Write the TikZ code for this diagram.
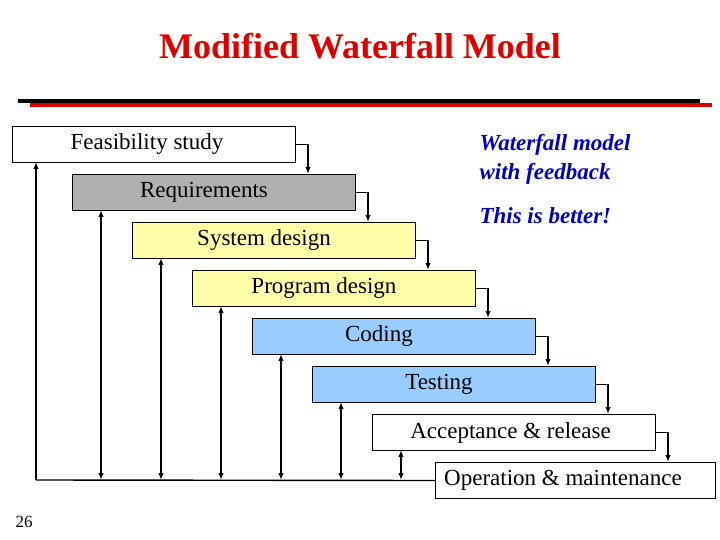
\documentclass[tikz,border=0pt]{standalone}
\usepackage{fontspec}
\setmainfont{Liberation Serif}
\usetikzlibrary{arrows.meta}
\definecolor{reqgray}{RGB}{176,176,176}
\definecolor{sysyellow}{RGB}{255,255,170}
\definecolor{codeblue}{RGB}{153,204,255}
\definecolor{titlered}{RGB}{220,0,0}
\definecolor{notecol}{RGB}{0,0,190}
\begin{document}
\begin{tikzpicture}[x=1pt,y=-1pt,
  phase/.style={draw=black,line width=1pt,minimum width=283pt,minimum height=36pt,anchor=north west,inner sep=0pt,font=\fontsize{23}{26}\selectfont},
  flow/.style={line width=1.4pt,-{Latex[length=7pt,width=5.5pt]}},
  fb/.style={line width=1.4pt,{Latex[length=7pt,width=5.5pt]}-{Latex[length=7pt,width=5.5pt]}},
  note/.style={text=notecol,font=\fontsize{23}{26}\selectfont\bfseries\itshape,anchor=west}]
\useasboundingbox (0,0) rectangle (720,540);
\node[font=\fontsize{36}{40}\selectfont\bfseries,text=titlered] (title) at (360,46) {Modified Waterfall Model};
\draw[line width=4pt] (18,101) -- (700,101);
\draw[line width=4pt,titlered] (30,105) -- (712,105);
\node[phase,fill=white] (f) at (12,126) {\hspace*{-14pt}Feasibility study};
\node[phase,fill=reqgray] (r) at (72,174) {\hspace*{-20pt}Requirements};
\node[phase,fill=sysyellow] (s) at (132,222) {\hspace*{-20pt}System design};
\node[phase,fill=sysyellow] (p) at (192,270) {\hspace*{-20pt}Program design};
\node[phase,fill=codeblue] (c) at (252,318) {\hspace*{-30pt}Coding};
\node[phase,fill=codeblue] (t) at (312,366) {\hspace*{-30pt}Testing};
\node[phase,fill=white] (a) at (372,414) {\hspace*{-7pt}Acceptance \& release};
\node[phase,fill=white,minimum width=280pt] (o) at (435,462) {\hspace*{-25pt}Operation \& maintenance};
\coordinate (fr) at ([xshift=12pt]f.east);
\draw[flow] (f.east) -- (fr) -- (fr |- r.north);
\coordinate (rr) at ([xshift=12pt]r.east);
\draw[flow] (r.east) -- (rr) -- (rr |- s.north);
\coordinate (sr) at ([xshift=12pt]s.east);
\draw[flow] (s.east) -- (sr) -- (sr |- p.north);
\coordinate (pr) at ([xshift=12pt]p.east);
\draw[flow] (p.east) -- (pr) -- (pr |- c.north);
\coordinate (cr) at ([xshift=12pt]c.east);
\draw[flow] (c.east) -- (cr) -- (cr |- t.north);
\coordinate (tr) at ([xshift=12pt]t.east);
\draw[flow] (t.east) -- (tr) -- (tr |- a.north);
\coordinate (ar) at ([xshift=12pt]a.east);
\draw[flow] (a.east) -- (ar) -- (ar |- o.north);
% feedback bus
\coordinate (b0) at (36,480);
\draw[line width=1.4pt] (o.west) -- (b0);
\draw[line width=1.4pt,{Latex[length=7pt,width=5.5pt]}-] (36,162) -- (b0);
\coordinate (b1) at (101,480); \draw[fb] (101,210) -- (b1);
\coordinate (b2) at (161,480); \draw[fb] (161,258) -- (b2);
\coordinate (b3) at (221,480); \draw[fb] (221,306) -- (b3);
\coordinate (b4) at (281,480); \draw[fb] (281,354) -- (b4);
\coordinate (b5) at (341,480); \draw[fb] (341,402) -- (b5);
\coordinate (b6) at (401,480); \draw[fb] (401,450) -- (b6);
\node[note] (n1) at (476,145) {Waterfall model};
\node[note] (n2) at (476,174) {with feedback};
\node[note] (n3) at (476,216) {This is better!};
\node[font=\fontsize{17}{20}\selectfont,anchor=west] (pg) at (12,522) {26};
\end{tikzpicture}
\end{document}
